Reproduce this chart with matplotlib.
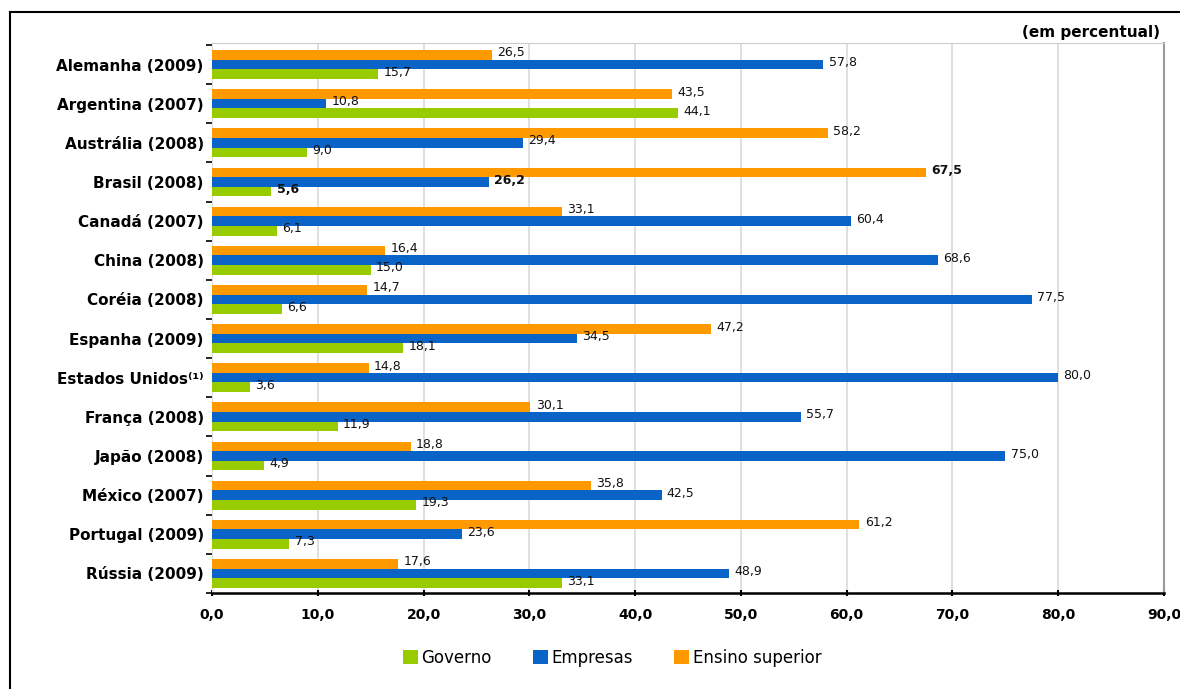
import matplotlib
matplotlib.use("Agg")
import matplotlib.pyplot as plt
from matplotlib.lines import Line2D
from matplotlib.patches import Patch
import numpy as np

countries = ["Alemanha (2009)", "Argentina (2007)", "Austrália (2008)", "Brasil (2008)",
             "Canadá (2007)", "China (2008)", "Coréia (2008)", "Espanha (2009)",
             "Estados Unidos⁽¹⁾", "França (2008)", "Japão (2008)", "México (2007)",
             "Portugal (2009)", "Rússia (2009)"]
ensino = [26.5, 43.5, 58.2, 67.5, 33.1, 16.4, 14.7, 47.2, 14.8, 30.1, 18.8, 35.8, 61.2, 17.6]
empresas = [57.8, 10.8, 29.4, 26.2, 60.4, 68.6, 77.5, 34.5, 80.0, 55.7, 75.0, 42.5, 23.6, 48.9]
governo = [15.7, 44.1, 9.0, 5.6, 6.1, 15.0, 6.6, 18.1, 3.6, 11.9, 4.9, 19.3, 7.3, 33.1]
xticks = [0, 10, 20, 30, 40, 50, 60, 70, 80, 90]
highlight = "Brasil (2008)"

c_ens = "#FF9900"
c_emp = "#0A64C8"
c_gov = "#99CC00"

fig = plt.figure(figsize=(11.8, 6.89), dpi=100)
ax = fig.add_axes([212/1180, 1-593/689, (1164-212)/1180, (593-43)/689])

n = len(countries)
ypos = np.arange(n)[::-1].astype(float)
h = 0.245
series = [(ensino, c_ens, h), (empresas, c_emp, 0.0), (governo, c_gov, -h)]
for vals, col, off in series:
    bars = ax.barh(ypos + off, vals, height=h, color=col, edgecolor="none", zorder=3)
    for b, v, name in zip(bars, vals, countries):
        bold = name == highlight
        ax.text(b.get_width() + 0.5, b.get_y() + b.get_height()/2 + 0.05,
                f"{v:.1f}".replace(".", ","), va="center", ha="left",
                fontsize=9, fontweight="bold" if bold else "normal",
                color="#111111", zorder=4)

ax.set_xlim(0, 90)
ax.set_ylim(-0.48, n - 0.45)
ax.set_xticks(xticks)
ax.set_xticklabels([f"{x:.1f}".replace(".", ",") for x in xticks],
                   fontsize=10, fontweight="bold")
ax.set_yticks(ypos)
ax.set_yticklabels(countries, fontsize=11, fontweight="bold")
ax.tick_params(axis="y", length=0, pad=6)
ax.set_yticks(np.arange(n + 1) - 0.5, minor=True)
ax.tick_params(axis="y", which="minor", length=4, width=1.2, color="black")
ax.tick_params(axis="x", length=4, width=1.5, color="black", pad=9, direction="inout")
for lab in ax.get_yticklabels():
    if lab.get_text() == highlight:
        lab.set_fontweight("heavy")

ax.grid(axis="x", color="#d9d9d9", linewidth=1.2, zorder=0)
ax.spines["bottom"].set_color("black")
ax.spines["bottom"].set_linewidth(1.8)
ax.spines["top"].set_color("#cccccc")
ax.spines["right"].set_color("#999999")
ax.spines["right"].set_linewidth(1.5)
ax.spines["left"].set_color("#dddddd")

fig.text(1160/1180, 1-32/689, "(em percentual)", ha="right", va="center",
         fontsize=11, fontweight="bold")

handles = [Patch(facecolor=c_gov, label="Governo"),
           Patch(facecolor=c_emp, label="Empresas"),
           Patch(facecolor=c_ens, label="Ensino superior")]
fig.legend(handles=handles, loc="center", bbox_to_anchor=(612/1180, 1-658/689),
           ncol=3, frameon=False, fontsize=12, handlelength=0.9, handleheight=0.9,
           handletextpad=0.2, columnspacing=2.5)

# outer frame
fig.add_artist(Line2D([10/1180, 10/1180], [0, 1-12/689], transform=fig.transFigure,
                      color="black", linewidth=1.5))
fig.add_artist(Line2D([10/1180, 1], [1-12/689, 1-12/689], transform=fig.transFigure,
                      color="black", linewidth=1.5))

fig.savefig("out.png", dpi=100)
